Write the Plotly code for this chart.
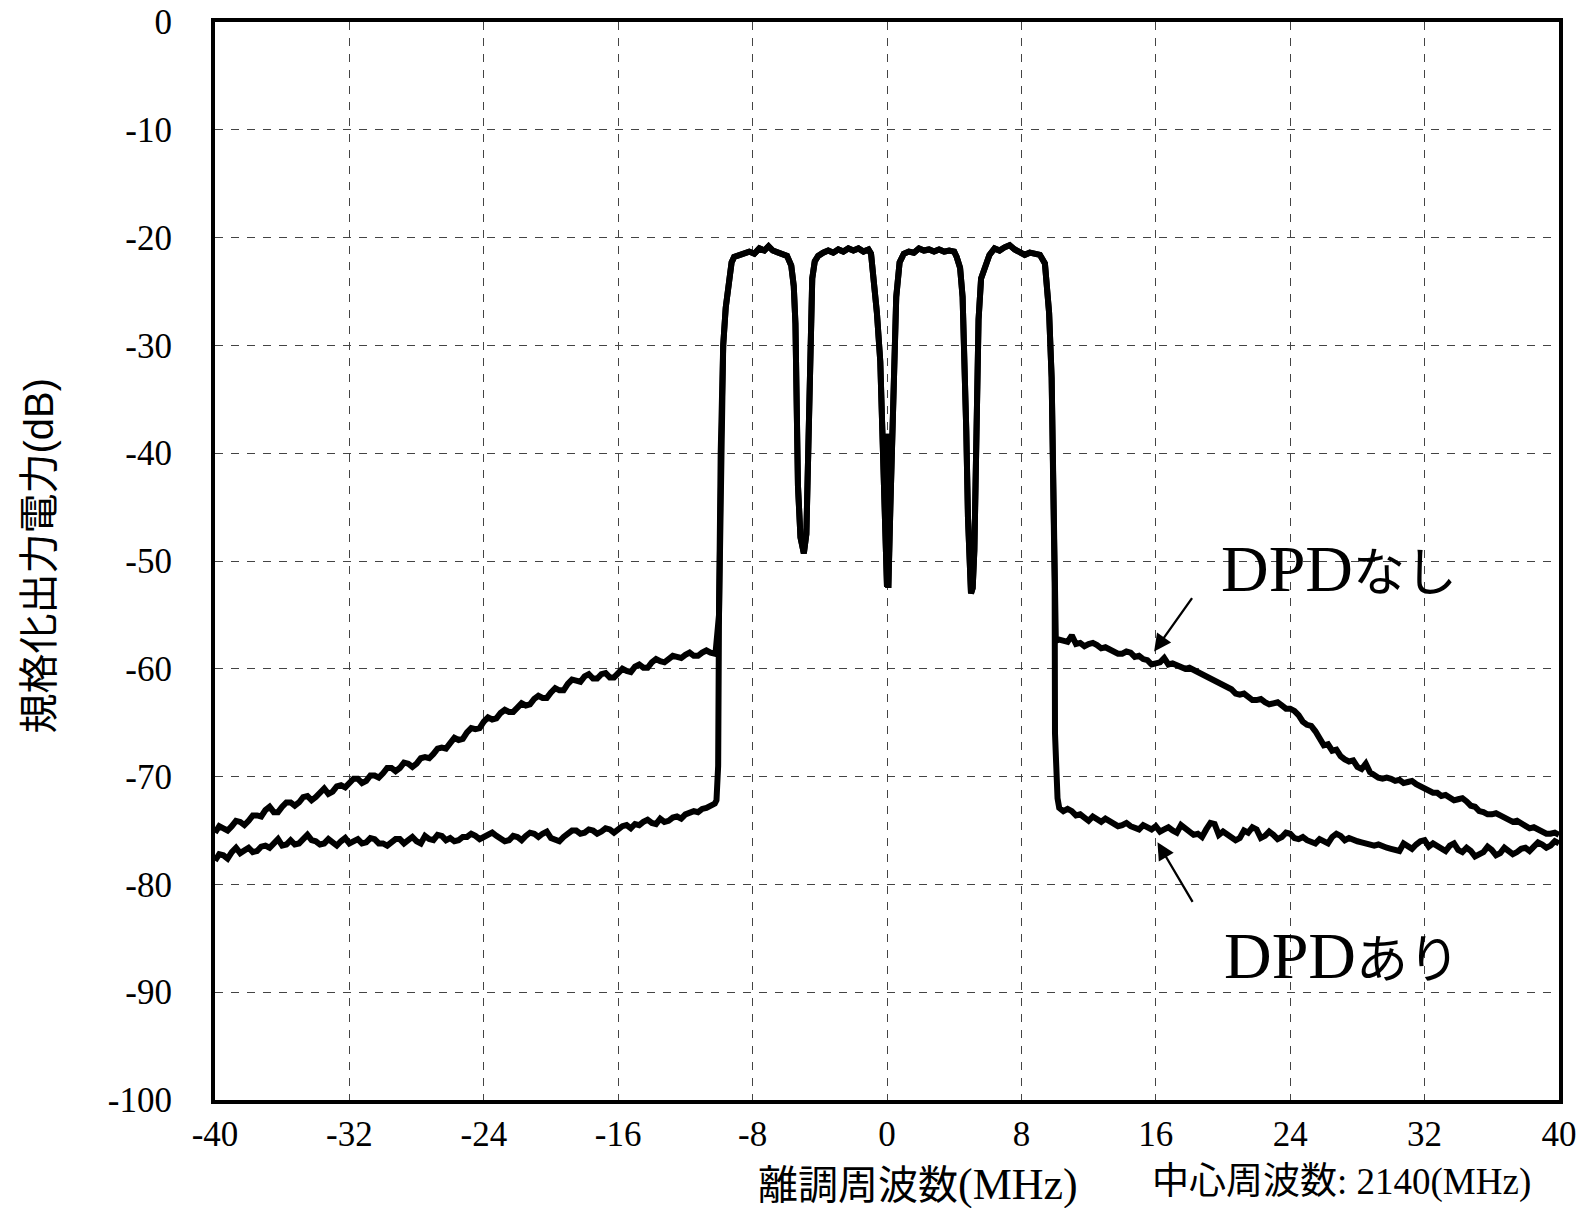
import plotly.graph_objects as go

# ---- measured spectrum data: frequency offset (MHz) / normalised output power (dB) ----

# sweep points of the lower adjacent band
left_freq = [-40.0, -39.75, -39.5, -39.25, -39.0, -38.75, -38.5, -38.25, -38.0, -37.75,
             -37.5, -37.25, -37.0, -36.75, -36.5, -36.25, -36.0, -35.75, -35.5, -35.25,
             -35.0, -34.75, -34.5, -34.25, -34.0, -33.75, -33.5, -33.25, -33.0, -32.75,
             -32.5, -32.25, -32.0, -31.75, -31.5, -31.25, -31.0, -30.75, -30.5, -30.25,
             -30.0, -29.75, -29.5, -29.25, -29.0, -28.75, -28.5, -28.25, -28.0, -27.75,
             -27.5, -27.25, -27.0, -26.75, -26.5, -26.25, -26.0, -25.75, -25.5, -25.25,
             -25.0, -24.75, -24.5, -24.25, -24.0, -23.75, -23.5, -23.25, -23.0, -22.75,
             -22.5, -22.25, -22.0, -21.75, -21.5, -21.25, -21.0, -20.75, -20.5, -20.25,
             -20.0, -19.75, -19.5, -19.25, -19.0, -18.75, -18.5, -18.25, -18.0, -17.75,
             -17.5, -17.25, -17.0, -16.75, -16.5, -16.25, -16.0, -15.75, -15.5, -15.25,
             -15.0, -14.75, -14.5, -14.25, -14.0, -13.75, -13.5, -13.25, -13.0, -12.75,
             -12.5, -12.25, -12.0, -11.75, -11.5, -11.25, -11.0, -10.75, -10.5, -10.25]

# lower adjacent band, without DPD
nashi_left_db = [-75.2, -74.6, -74.8, -75.0, -74.6, -74.1, -74.2, -74.5, -74.1, -73.6,
                 -73.6, -73.7, -73.1, -72.8, -73.3, -73.3, -72.8, -72.4, -72.4, -72.7,
                 -72.4, -71.9, -71.8, -72.2, -71.9, -71.4, -71.1, -71.6, -71.4, -70.9,
                 -70.8, -71.0, -70.6, -70.2, -70.2, -70.6, -70.4, -69.9, -69.9, -70.1,
                 -69.7, -69.2, -69.2, -69.5, -69.2, -68.7, -68.8, -69.1, -68.8, -68.3,
                 -68.2, -68.3, -67.9, -67.4, -67.3, -67.4, -66.9, -66.4, -66.6, -66.5,
                 -65.9, -65.5, -65.6, -65.5, -64.9, -64.5, -64.7, -64.6, -64.1, -63.8,
                 -64.0, -64.0, -63.6, -63.2, -63.4, -63.3, -62.8, -62.5, -62.7, -62.7,
                 -62.2, -61.8, -62.0, -62.0, -61.4, -61.0, -61.1, -61.2, -60.7, -60.5,
                 -60.9, -60.9, -60.5, -60.4, -60.8, -60.8, -60.4, -60.0, -60.2, -60.3,
                 -59.8, -59.6, -59.9, -59.9, -59.4, -59.1, -59.3, -59.4, -59.1, -58.8,
                 -58.9, -59.0, -58.7, -58.5, -58.8, -58.8, -58.5, -58.3, -58.5, -58.6]

# lower adjacent band, with DPD
ari_left_db = [-77.8, -77.2, -77.3, -77.6, -77.0, -76.6, -77.1, -76.8, -76.6, -77.0,
               -76.9, -76.5, -76.4, -76.6, -76.1, -75.8, -76.4, -76.3, -75.9, -76.3,
               -76.2, -75.7, -75.4, -75.9, -76.0, -76.3, -76.2, -75.8, -76.1, -76.4,
               -76.0, -75.7, -76.2, -76.0, -75.8, -76.2, -76.1, -75.7, -75.8, -76.2,
               -76.2, -76.4, -76.1, -75.8, -75.8, -76.2, -75.9, -75.6, -76.0, -76.2,
               -75.5, -75.8, -75.9, -75.4, -75.5, -75.9, -75.7, -76.0, -75.9, -75.6,
               -75.6, -75.3, -75.5, -75.8, -75.6, -75.4, -75.2, -75.5, -75.7, -76.0,
               -75.9, -75.5, -75.6, -75.9, -75.5, -75.2, -75.3, -75.6, -75.3, -75.1,
               -75.7, -75.9, -76.0, -75.6, -75.3, -75.0, -75.0, -75.3, -75.2, -74.9,
               -75.0, -75.3, -75.1, -74.8, -74.9, -75.2, -74.9, -74.6, -74.5, -74.8,
               -74.4, -74.5, -74.2, -74.0, -74.3, -74.4, -73.9, -74.2, -74.1, -73.8,
               -73.7, -73.9, -73.5, -73.4, -73.2, -73.3, -73.0, -72.9, -72.7, -72.5]

# band-edge transitions of each trace
nashi_edge_lo_freq = [-10.2]
nashi_edge_lo_db = [-58.4]
nashi_edge_hi_freq = [10.05]
nashi_edge_hi_db = [-57.4]
ari_edge_lo_freq = [-10.15, -10.05]
ari_edge_lo_db = [-72.2, -69.0]
ari_edge_hi_freq = [10.0, 10.05, 10.15]
ari_edge_hi_db = [-66.0, -70.5, -72.0]

# occupied band (four carriers), common to both measurements
band_freq = [-10.00, -9.90, -9.75, -9.60, -9.45, -9.25, -9.10, -8.80, -8.50, -8.20,
             -7.90, -7.60, -7.30, -7.05, -6.80, -6.50, -6.20, -5.95, -5.70, -5.55,
             -5.45, -5.38, -5.30, -5.15, -4.95, -4.80, -4.72, -4.66, -4.58, -4.45,
             -4.30, -4.10, -3.80, -3.50, -3.20, -2.90, -2.60, -2.30, -2.00, -1.70,
             -1.40, -1.10, -0.95, -0.80, -0.60, -0.40, -0.25, -0.12, 0.00, 0.04,
             0.08, 0.20, 0.32, 0.42, 0.55, 0.75, 1.00, 1.30, 1.60, 1.90,
             2.20, 2.50, 2.80, 3.10, 3.40, 3.70, 4.00, 4.15, 4.35, 4.50,
             4.62, 4.72, 4.82, 4.92, 5.00, 5.10, 5.20, 5.27, 5.36, 5.45,
             5.60, 5.85, 6.10, 6.40, 6.70, 7.00, 7.30, 7.60, 7.90, 8.20,
             8.50, 8.80, 9.10, 9.40, 9.65, 9.80, 9.90, 9.98]
band_db = [-55.0, -40.0, -30.0, -26.5, -24.2, -22.3, -21.8, -21.6, -21.4, -21.3,
           -21.5, -21.0, -21.2, -20.8, -21.2, -21.4, -21.5, -21.7, -22.6, -24.5,
           -28.0, -35.0, -43.0, -47.8, -49.3, -47.5, -42.0, -33.0, -27.5, -23.8,
           -22.2, -21.7, -21.4, -21.2, -21.4, -21.1, -21.3, -21.0, -21.2, -21.0,
           -21.3, -21.1, -21.5, -23.5, -27.0, -31.5, -38.0, -46.0, -52.4, -38.2,
           -52.5, -45.0, -38.0, -30.5, -25.5, -22.3, -21.5, -21.3, -21.4, -21.0,
           -21.2, -21.1, -21.3, -21.1, -21.3, -21.2, -21.3, -21.8, -22.8, -25.5,
           -30.5, -38.0, -46.0, -51.5, -53.0, -52.5, -49.0, -43.0, -34.0, -27.6,
           -23.8, -22.8, -21.6, -21.0, -21.2, -20.9, -20.7, -21.1, -21.4, -21.6,
           -21.4, -21.5, -21.6, -22.4, -27.0, -33.0, -42.0, -52.0]

# sweep points of the upper adjacent band
right_freq = [10.25, 10.5, 10.75, 11.0, 11.25, 11.5, 11.75, 12.0, 12.25, 12.5,
              12.75, 13.0, 13.25, 13.5, 13.75, 14.0, 14.25, 14.5, 14.75, 15.0,
              15.25, 15.5, 15.75, 16.0, 16.25, 16.5, 16.75, 17.0, 17.25, 17.5,
              17.75, 18.0, 18.25, 18.5, 18.75, 19.0, 19.25, 19.5, 19.75, 20.0,
              20.25, 20.5, 20.75, 21.0, 21.25, 21.5, 21.75, 22.0, 22.25, 22.5,
              22.75, 23.0, 23.25, 23.5, 23.75, 24.0, 24.25, 24.5, 24.75, 25.0,
              25.25, 25.5, 25.75, 26.0, 26.25, 26.5, 26.75, 27.0, 27.25, 27.5,
              27.75, 28.0, 28.25, 28.5, 28.75, 29.0, 29.25, 29.5, 29.75, 30.0,
              30.25, 30.5, 30.75, 31.0, 31.25, 31.5, 31.75, 32.0, 32.25, 32.5,
              32.75, 33.0, 33.25, 33.5, 33.75, 34.0, 34.25, 34.5, 34.75, 35.0,
              35.25, 35.5, 35.75, 36.0, 36.25, 36.5, 36.75, 37.0, 37.25, 37.5,
              37.75, 38.0, 38.25, 38.5, 38.75, 39.0, 39.25, 39.5, 39.75, 40.0]

# upper adjacent band, without DPD
nashi_right_db = [-57.3, -57.4, -57.5, -56.9, -57.7, -57.6, -57.9, -57.7, -57.6, -57.8,
                  -58.1, -58.0, -58.2, -58.3, -58.6, -58.6, -58.4, -58.5, -58.9, -58.8,
                  -59.1, -59.2, -59.6, -59.5, -59.4, -59.0, -59.6, -59.5, -59.7, -59.8,
                  -60.0, -59.9, -60.1, -60.2, -60.5, -60.6, -60.8, -61.1, -61.2, -61.5,
                  -61.6, -61.9, -62.3, -62.4, -62.3, -62.6, -62.9, -62.9, -62.8, -63.1,
                  -63.3, -63.2, -63.1, -63.4, -63.7, -63.7, -63.9, -64.3, -64.9, -65.2,
                  -65.3, -65.8, -66.4, -67.1, -67.0, -67.6, -67.5, -68.1, -68.4, -68.6,
                  -68.5, -69.1, -69.3, -68.8, -69.6, -69.9, -70.1, -70.2, -70.1, -70.2,
                  -70.4, -70.3, -70.6, -70.5, -70.4, -70.7, -70.9, -71.2, -71.4, -71.5,
                  -71.5, -71.8, -71.7, -72.0, -72.2, -72.1, -72.0, -72.3, -72.7, -72.8,
                  -73.2, -73.3, -73.5, -73.5, -73.4, -73.6, -73.8, -73.9, -74.2, -74.1,
                  -74.3, -74.5, -74.8, -74.7, -74.9, -75.0, -75.3, -75.3, -75.2, -75.4]

# upper adjacent band, with DPD
ari_right_db = [-72.9, -73.2, -73.0, -73.2, -73.6, -73.5, -73.8, -74.1, -73.7, -73.9,
                -74.2, -73.9, -74.1, -74.3, -74.6, -74.5, -74.3, -74.6, -74.8, -74.9,
                -74.5, -74.7, -74.9, -74.6, -75.1, -74.9, -74.7, -75.0, -75.2, -74.5,
                -74.8, -75.1, -75.4, -75.3, -75.6, -74.9, -74.3, -74.4, -75.4, -75.1,
                -75.4, -75.6, -75.9, -75.7, -75.0, -75.2, -74.7, -74.9, -75.7, -75.5,
                -75.1, -75.4, -75.8, -75.6, -75.2, -75.3, -75.7, -75.8, -75.6, -75.9,
                -76.1, -76.2, -75.8, -76.0, -76.2, -75.6, -75.3, -75.5, -75.9, -75.7,
                -75.9, -76.0, -76.1, -76.2, -76.3, -76.4, -76.3, -76.5, -76.6, -76.7,
                -76.8, -76.9, -76.2, -76.5, -76.7, -76.3, -76.0, -75.9, -76.5, -76.2,
                -76.4, -76.6, -76.9, -76.4, -76.2, -76.8, -77.0, -76.6, -76.9, -77.4,
                -77.2, -77.0, -76.5, -76.8, -77.3, -77.1, -76.6, -76.9, -77.2, -77.0,
                -76.7, -76.6, -76.9, -76.5, -76.1, -76.3, -76.6, -76.4, -76.0, -76.2]

x_ticks = [-40, -32, -24, -16, -8, 0, 8, 16, 24, 32, 40]
x_tick_text = ["-40", "-32", "-24", "-16", "-8", "0", "8", "16", "24", "32", "40"]
y_ticks = [-100, -90, -80, -70, -60, -50, -40, -30, -20, -10, 0]
y_tick_text = ["-100", "-90", "-80", "-70", "-60", "-50", "-40", "-30", "-20", "-10", "0"]

SERIF = "Liberation Serif, Times New Roman, Noto Sans CJK JP, serif"
SANS = "Liberation Sans, Arial, Noto Sans CJK JP, sans-serif"

fig = go.Figure()

line_style = dict(color="black", width=6)

fig.add_trace(go.Scatter(
    x=left_freq + nashi_edge_lo_freq + band_freq + nashi_edge_hi_freq + right_freq,
    y=nashi_left_db + nashi_edge_lo_db + band_db + nashi_edge_hi_db + nashi_right_db,
    mode="lines", line=line_style, name="DPDなし", showlegend=False))

fig.add_trace(go.Scatter(
    x=left_freq + ari_edge_lo_freq + band_freq + ari_edge_hi_freq + right_freq,
    y=ari_left_db + ari_edge_lo_db + band_db + ari_edge_hi_db + ari_right_db,
    mode="lines", line=line_style, name="DPDあり", showlegend=False))

grid = dict(showgrid=True, gridcolor="#444444", gridwidth=1.4, griddash="8px,8px",
            zeroline=False, showline=True, linecolor="black", linewidth=4,
            mirror=True, ticks="", automargin=False)

fig.update_xaxes(range=[-40, 40], tickvals=x_ticks, ticktext=x_tick_text,
                 tickfont=dict(family=SERIF, size=35, color="black"),
                 ticklabelstandoff=0, **grid)
fig.update_yaxes(range=[-100, 0], tickvals=y_ticks, ticktext=y_tick_text,
                 tickfont=dict(family=SERIF, size=35, color="black"),
                 ticklabelstandoff=32, **grid)

annotations = [
    # axis titles
    dict(text="規格化出力電力(dB)", xref="paper", yref="paper", x=-0.131, y=0.505,
         textangle=-90, showarrow=False, xanchor="center", yanchor="middle",
         font=dict(family=SANS, size=40, color="black")),
    dict(text="離調周波数<span style='font-size:44px'>(MHz)</span>",
         xref="paper", yref="paper", x=0.523, y=-0.078, showarrow=False,
         xanchor="center", yanchor="middle",
         font=dict(family=SERIF, size=40, color="black")),
    dict(text="中心周波数: 2140(MHz)", xref="paper", yref="paper", x=0.838, y=-0.076,
         showarrow=False, xanchor="center", yanchor="middle",
         font=dict(family=SERIF, size=37, color="black")),
    # series labels
    dict(text="DPD<span style='font-size:52px'>なし</span>", x=26.9, y=-50.7,
         showarrow=False, xanchor="center", yanchor="middle",
         font=dict(family=SERIF, size=66, color="black")),
    dict(text="DPD<span style='font-size:52px'>あり</span>", x=27.1, y=-86.6,
         showarrow=False, xanchor="center", yanchor="middle",
         font=dict(family=SERIF, size=66, color="black")),
    # pointer arrows
    dict(text="", x=15.9, y=-58.4, ax=39, ay=-55, showarrow=True,
         arrowhead=2, arrowsize=1.5, arrowwidth=2.3, arrowcolor="black", standoff=0),
    dict(text="", x=16.1, y=-76.1, ax=36, ay=61, showarrow=True,
         arrowhead=2, arrowsize=1.5, arrowwidth=2.3, arrowcolor="black", standoff=0),
]

fig.update_layout(
    width=1583, height=1208,
    margin=dict(l=215, r=24, t=22, b=108, autoexpand=False),
    paper_bgcolor="white", plot_bgcolor="white",
    annotations=annotations,
    showlegend=False,
)

fig.write_html("out.html")
